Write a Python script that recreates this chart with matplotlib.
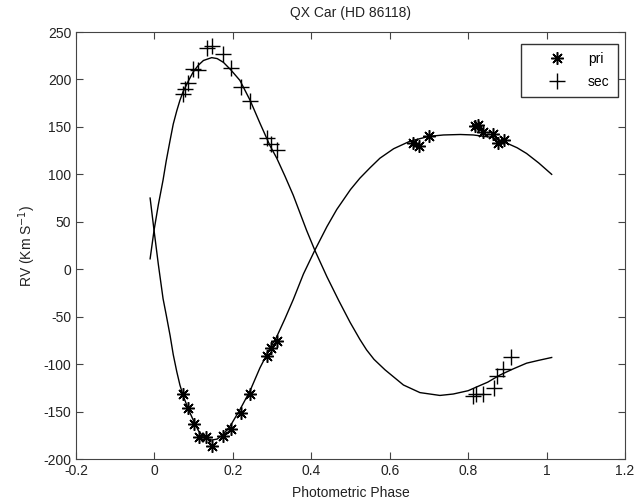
import matplotlib
matplotlib.use("Agg")
import matplotlib.pyplot as plt
from matplotlib.ticker import FormatStrFormatter

plt.rcParams["font.family"] = ["Liberation Sans", "DejaVu Sans"]
plt.rcParams["axes.unicode_minus"] = False

pri_phase = [0.073, 0.086, 0.101, 0.114, 0.131, 0.148, 0.176, 0.194, 0.222, 0.244,
             0.288, 0.296, 0.312,
             0.660, 0.675, 0.701, 0.818, 0.824, 0.839, 0.864, 0.875, 0.892]
pri_rv = [-132, -146, -163, -177, -177, -186, -176, -168, -151, -132,
          -91, -83, -76,
          133, 130, 140, 151, 152, 145, 142, 133, 136]

sec_phase = [0.073, 0.078, 0.086, 0.099, 0.112, 0.133, 0.148, 0.176, 0.194, 0.222,
             0.244, 0.288, 0.296, 0.312,
             0.813, 0.820, 0.837, 0.866, 0.873, 0.890, 0.909]
sec_rv = [185, 190, 196, 211, 210, 233, 235, 227, 212, 192,
          177, 138, 132, 126,
          -134, -132, -131, -125, -112, -105, -92]

# model curves
pri_model_phase = [-0.011, -0.001, 0.010, 0.022, 0.030, 0.040, 0.048, 0.057, 0.065,
                   0.073, 0.086, 0.099, 0.112, 0.125, 0.146, 0.160, 0.176, 0.195,
                   0.218, 0.244, 0.269, 0.295, 0.312, 0.333, 0.354, 0.380, 0.409,
                   0.440, 0.465, 0.500, 0.524, 0.550, 0.575, 0.610, 0.652, 0.700,
                   0.737, 0.780, 0.813, 0.860, 0.898, 0.925, 0.949, 0.980, 1.013]
pri_model_rv = [75, 41, 5, -31, -48, -70, -90, -108, -122,
                -133, -147, -159, -170, -177, -180, -179, -174, -164,
                -148, -128, -104, -83, -71, -52, -32, -5, 20,
                45, 63, 84, 96, 107, 117, 127, 135, 140,
                141.5, 142, 141.5, 139, 133, 128, 122, 112, 100]

sec_model_phase = [-0.011, -0.001, 0.010, 0.022, 0.030, 0.040, 0.048, 0.057, 0.065,
                   0.073, 0.086, 0.099, 0.112, 0.125, 0.146, 0.160, 0.176, 0.195,
                   0.218, 0.244, 0.269, 0.295, 0.312, 0.333, 0.354, 0.388, 0.409,
                   0.440, 0.470, 0.499, 0.524, 0.541, 0.560, 0.588, 0.635, 0.677,
                   0.728, 0.762, 0.800, 0.822, 0.850, 0.881, 0.915, 0.949, 0.980,
                   1.013]
sec_model_rv = [11, 41, 68, 94, 114, 136, 153, 167, 178,
                187, 198, 208, 215, 220, 223, 222, 218, 210,
                199, 178, 154, 130, 117, 98, 78, 41, 20,
                -8, -33, -56, -74, -85, -95, -106, -122, -130,
                -133, -131.5, -128, -124, -119, -111.5, -105, -99, -96,
                -93]

fig = plt.figure(figsize=(6.36, 5.01), dpi=100)
ax = fig.add_axes([0.1195, 0.0838, 0.8632, 0.8523])

ast = (8, 2, 0)
ax.plot(pri_phase, pri_rv, linestyle="none", marker=ast, markersize=9,
        markeredgewidth=1.1, color="black", label="pri")
ax.plot(sec_phase, sec_rv, linestyle="none", marker="+", markersize=11,
        markeredgewidth=1.0, color="black", label="sec")
ax.plot(pri_model_phase, pri_model_rv, color="black", linewidth=1.0)
ax.plot(sec_model_phase, sec_model_rv, color="black", linewidth=1.0)

ax.set_xlim(-0.2, 1.2)
ax.set_ylim(-200, 250)
ax.set_xticks([-0.2, 0, 0.2, 0.4, 0.6, 0.8, 1, 1.2])
ax.set_yticks(range(-200, 251, 50))
ax.xaxis.set_major_formatter(FormatStrFormatter("%g"))
ax.tick_params(direction="in", top=True, right=True, length=5, labelsize=10,
               color="#444444", labelcolor="#222222")
for s in ax.spines.values():
    s.set_color("#444444")

ax.set_title("QX Car (HD 86118)", fontsize=10, color="#222222", pad=11)
ax.set_xlabel("Photometric Phase", fontsize=10, color="#222222", labelpad=6)
ax.set_ylabel("RV (Km S$^{-1}$)", fontsize=10, color="#222222")

leg = ax.legend(loc="upper right", bbox_to_anchor=(0.987, 0.972), borderaxespad=0,
                fancybox=False, framealpha=1, edgecolor="#333333", fontsize=10,
                handlelength=4.0, handletextpad=0.2, borderpad=0.6, labelspacing=0.6)
leg.get_frame().set_linewidth(1.0)

fig.savefig("out.png", dpi=100)
